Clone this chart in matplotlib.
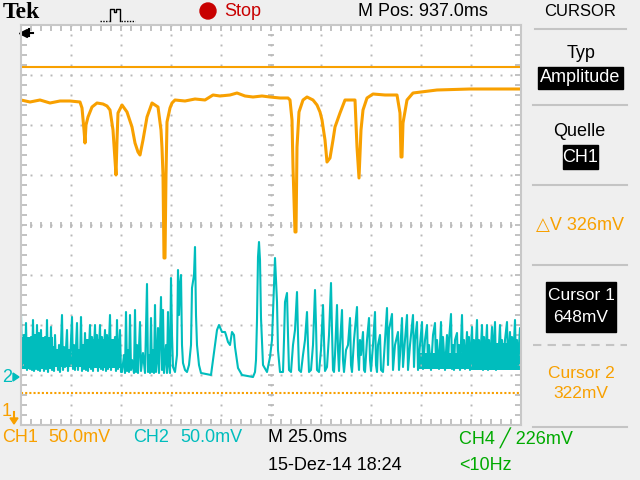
import matplotlib
matplotlib.use("Agg")
import matplotlib.pyplot as plt
from matplotlib.patches import Rectangle, Circle, Polygon
import numpy as np

ORANGE = "#f8a000"
CYAN = "#00bdbd"
GREEN = "#00aa00"
RED = "#c80000"
BG = "#efefef"
GRID = "#b8b8b8"
FONT = ["Liberation Sans", "DejaVu Sans"]

# scope settings
ms_per_div = 25.0
mv_per_div = 50.0
ch1_bottom_mv = 290.0      # CH1 value at bottom edge of screen
ch2_ground_div = 1.0       # CH2 ground marker, divisions above bottom
cursor1_mv = 648
cursor2_mv = 322

# CH1 (orange) - time in ms from left edge, amplitude in mV
ch1_t = [0, 4.5, 9.5, 14.5, 19.5, 24.5, 29.5, 30.5, 31.5, 32, 32.5, 33.5, 35.5, 38, 41, 43,
         44.5, 46, 47, 47.5, 48, 48.5, 50.5, 53, 55.5, 57, 58.5, 59.5, 61, 63, 65.5, 68.5,
         70, 70.5, 71, 71.5, 72, 72.5, 73, 74.5, 75.5, 77, 82, 87, 92, 96, 99.5, 104.5,
         108, 112, 116, 120.5, 124.5, 129.5, 133.5, 134.5, 135.5, 136, 137, 137.5, 138, 139,
         141, 143, 146, 148, 149.5, 150.5, 152, 153, 154.5, 156, 157, 159.5, 162, 167,
         168, 169, 170, 171, 173, 176, 182, 188, 189.5, 190, 190.5, 191, 193, 196,
         208, 224.5, 250]
ch1_mv = [615, 613, 615, 612, 614, 614, 613, 607, 585, 572, 590, 598, 608, 612, 611, 609,
          605, 585, 555, 540, 575, 602, 610, 603, 588, 572, 563, 560, 575, 598, 612, 608,
          585, 567, 540, 457, 457, 540, 593, 607, 612, 615, 614, 616, 615, 620, 619, 620,
          622, 619, 618, 619, 618, 617, 617, 615, 595, 548, 483, 483, 568, 603,
          615, 618, 615, 610, 603, 595, 575, 553, 557, 575, 588, 602, 615, 615,
          568, 537, 585, 605, 617, 621, 620, 620, 602, 558, 558, 592, 615, 622,
          625, 626, 626]

# CH2 (cyan) - (time ms, mV above ground)
ch2_samples = [
    (0, 60), (0.5, 10), (1.5, 40), (2, 8), (2.5, 52), (3, 5), (3.5, 35), (4.5, 6), (5, 38),
    (5.5, 5), (6, 55), (6.5, 4), (7, 40), (7.5, 6), (8, 50), (8.5, 5), (9, 42), (9.5, 4),
    (10, 45), (10.5, 8), (11, 35), (11.5, 4), (12, 38), (12.5, 6), (13, 55), (13.5, 3),
    (14, 30), (14.5, 8), (15, 48), (15.5, 5), (16, 28), (16.5, 4), (17, 40), (17.5, 10),
    (18, 25), (18.5, 5), (19, 30), (19.5, 3), (20.5, 60), (21, 5), (21.5, 28), (22, 8),
    (23, 45), (23.5, 4), (24, 25), (24.5, 12), (25.5, 58), (26, 6), (26.5, 30), (27, 5),
    (28, 52), (28.5, 5), (29, 25), (29.5, 10), (30, 58), (30.5, 4), (31, 30), (31.5, 6),
    (32, 42), (32.5, 5), (33, 35), (33.5, 4), (34.5, 50), (35, 6), (35.5, 38), (36, 4),
    (37, 50), (37.5, 8), (38, 40), (38.5, 4), (39.5, 50), (40, 6), (40.5, 38), (41, 5),
    (42, 45), (42.5, 4), (43, 40), (43.5, 6), (44.5, 60), (45, 5), (45.5, 35), (46, 8),
    (47, 38), (47.5, 4), (48, 55), (48.5, 6), (49.5, 45), (50, 3), (50.5, 3), (51.5, 20),
    (52, 2), (52.5, 63), (53, 4), (53.5, 25), (54, 3), (54.5, 60), (55, 5), (55.5, 15),
    (56.5, 2), (57, 65), (57.5, 3), (58, 30), (58.5, 2), (59.5, 53), (60, 4), (61, 22),
    (62, 2), (63, 91), (63.5, 3), (64, 20), (64.5, 2), (65, 57), (65.5, 3), (66, 25),
    (66.5, 2), (67, 70), (67.5, 3), (68, 15), (68.5, 47), (69, 2), (70, 78), (70.5, 5),
    (71, 65), (71.5, 2), (72.5, 30), (73, 2), (73.5, 63), (74, 10), (74.5, 2), (75, 97),
    (75.5, 40), (76, 8), (77, 3), (78, 20), (78.5, 105), (79, 60), (79.5, 90), (80, 100),
    (80.5, 30), (81, 12), (82, 5), (83, 3), (84, 10), (85, 30), (85.5, 87), (86.5, 100),
    (87, 128), (87.5, 60), (88, 30), (89, 10), (90, 2), (95, 0), (96, 15), (98, 45),
    (99, 50), (100.5, 43), (102, 43), (102.5, 40), (103.5, 33), (104.5, 30), (105.5, 43),
    (106.5, 40), (107, 28), (108.5, 7), (110.5, 0), (116, -2), (117, 3), (117.5, 15),
    (118, 55), (118.5, 118), (119, 133), (119.5, 115), (120, 57), (121, 10), (123, 3),
    (124.5, 18), (125.5, 35), (127, 117), (128, 73), (128.5, 25), (129.5, 3), (131, 3),
    (131.5, 35), (132, 73), (133, 82), (133.5, 40), (134, 5), (135, 3), (136, 30), (137, 45),
    (138, 83), (138.5, 40), (139, 5), (140, 3), (141, 20), (142, 35), (143, 63), (143.5, 30),
    (144, 3), (145, 5), (146, 30), (147, 85), (147.5, 50), (148, 5), (149, 3), (150, 25),
    (151, 70), (151.5, 35), (152, 4), (153, 8), (154, 40), (155, 92), (155.5, 45), (156, 5),
    (156.5, 3), (157, 20), (158, 70), (158.5, 25), (159, 4), (159.5, 30), (160.5, 65),
    (161, 15), (161.5, 3), (162.5, 25), (163.5, 30), (164.5, 57), (165, 10), (165.5, 3),
    (166.5, 35), (168, 68), (168.5, 20), (169, 5), (169.5, 35), (170, 20), (171, 43),
    (171.5, 5), (172, 3), (173, 35), (174, 57), (174.5, 15), (175, 4), (176, 30), (177, 63),
    (177.5, 10), (178, 3), (178.5, 30), (179.5, 40), (180, 5), (181, 3), (182, 35), (183, 67),
    (183.5, 10), (184, 45), (185.5, 61), (186, 5), (187, 30), (188.5, 43), (189, 5),
    (189.5, 20), (190.5, 57), (191, 8), (192, 35), (193, 60), (193.5, 5), (194.5, 30),
    (196, 60), (196.5, 8), (197, 35), (198, 53), (198.5, 5), (199.5, 30), (200.5, 53),
    (201, 6), (202, 35), (203, 50), (203.5, 8), (204, 30), (205, 5), (206, 40), (207, 52),
    (207.5, 10), (208, 35), (209, 6), (210, 53), (210.5, 8), (211, 38), (212, 5), (213, 40),
    (213.5, 10), (214, 35), (215, 61), (215.5, 6), (216, 30), (216.5, 5), (217, 35),
    (218, 42), (218.5, 8), (219, 30), (219.5, 5), (220.5, 60), (221, 10), (221.5, 35),
    (222, 6), (223, 43), (223.5, 10), (224, 38), (224.5, 5), (225.5, 48), (226, 8),
    (226.5, 35), (227, 10), (228, 55), (228.5, 6), (229, 35), (229.5, 10), (230.5, 50),
    (231, 5), (231.5, 38), (232, 12), (233, 50), (233.5, 5), (234, 35), (234.5, 8),
    (235.5, 48), (236, 12), (237, 53), (237.5, 5), (238, 30), (238.5, 10), (239.5, 50),
    (240, 15), (240.5, 35), (241, 6), (242, 35), (243, 53), (243.5, 10), (244.5, 43),
    (245, 8), (245.5, 38), (246, 12), (247, 55), (247.5, 8), (248, 35), (248.5, 10),
    (249.5, 47), (250, 15),
]

# CH2 dense envelope where the trace smears into a solid band: (t0, t1, low mV, high mV)
ch2_bands = [
    (0, 16, 6, 38),
    (16, 33, 8, 22),
    (33, 49.5, 7, 36),
    (198, 225, 6, 22),
    (225, 250, 5, 32),
]

fig = plt.figure(figsize=(6.4, 4.8), dpi=100, facecolor=BG)

# overlay in screen pixels for the status text
ov = fig.add_axes([0, 0, 1, 1])
ov.set_xlim(0, 640)
ov.set_ylim(480, 0)
ov.axis("off")

def label(x, y, s, color="black", size=13, ha="left", **kw):
    ov.text(x, y, s, color=color, fontsize=size, ha=ha, va="center", family=FONT, **kw)

# top bar
ov.text(3, 13, "Tek", fontsize=17, fontweight="bold", family="Liberation Serif", va="center")
ov.plot([100, 109], [21, 21], color="black", lw=1, ls=(0, (1, 1)))
ov.plot([110, 110, 114, 114, 116, 116, 120, 120], [21, 9, 9, 12, 12, 9, 9, 21], color="black", lw=1)
ov.plot([121, 135], [21, 21], color="black", lw=1, ls=(0, (1, 1)))
ov.add_patch(Circle((208, 11), 8, color=RED))
label(224, 11, "Stop", color=RED)
label(358, 11, "M Pos: 937.0ms")
label(580, 11, "CURSOR", ha="center", size=12)
ov.plot([535, 626], [29, 29], color="#c4c4c4", lw=1.5)

# right menu
label(581, 53, "Typ", ha="center")
ov.add_patch(Rectangle((538, 67), 85, 22, color="black"))
label(580.5, 78, "Amplitude", color="white", ha="center")
ov.plot([533, 627], [105, 105], color="#c4c4c4", lw=1.5)
label(579, 132, "Quelle", ha="center")
ov.add_patch(Rectangle((563, 145), 35, 24, color="black"))
label(580.5, 157, "CH1", color="white", ha="center")
ov.plot([533, 627], [185, 185], color="#c4c4c4", lw=1.5)
label(580, 225, "\u25b3V 326mV", color=ORANGE, ha="center")
ov.plot([533, 627], [265, 265], color="#c4c4c4", lw=1.5)
ov.add_patch(Rectangle((546, 282), 70, 50, color="black"))
label(581, 295, "Cursor 1", color="white", ha="center", size=12.5)
label(581, 317, f"{cursor1_mv}mV", color="white", ha="center", size=12.5)
ov.plot([533, 627], [345, 345], color="#c4c4c4", lw=1.5, ls=(0, (4, 3)))
label(581, 373, "Cursor 2", color=ORANGE, ha="center", size=12.5)
label(581, 394, f"{cursor2_mv}mV", color=ORANGE, ha="center", size=12.5)
ov.plot([533, 627], [427, 427], color="#c4c4c4", lw=1.5)

# bottom bar
label(2, 438, "CH1", color=ORANGE)
label(48, 438, "50.0mV", color=ORANGE)
label(133, 438, "CH2", color=CYAN)
label(180, 438, "50.0mV", color=CYAN)
label(268, 438, "M 25.0ms")
label(459, 438, "CH4 \u2571 226mV", color=GREEN)
label(268, 465, "15-Dez-14 18:24")
label(459, 465, "<10Hz", color=GREEN)

# channel markers on the left
label(2, 377, "2", color=CYAN)
ov.add_patch(Polygon([[13, 373], [19, 377], [13, 381]], color=CYAN))
label(2, 412, "1", color=ORANGE)
ov.add_patch(Polygon([[10, 418], [18, 418], [14, 424]], color=ORANGE))
ov.plot([14, 14], [412, 419], color=ORANGE, lw=1.5)

# graticule
ax = fig.add_axes([21 / 640, 55 / 480, 500 / 640, 400 / 480])
ax.set_facecolor("white")
ax.set_xlim(0, 10 * ms_per_div)
ax.set_ylim(0, 8)
for sp in ax.spines.values():
    sp.set_color("#c8c8c8")
    sp.set_linewidth(1.5)
ax.set_xticks(np.arange(0, 250.1, 5))
ax.set_yticks(np.arange(0, 8.01, 0.2))
ax.tick_params(direction="in", length=4, width=1.2, color=GRID, top=True, right=True,
               labelbottom=False, labelleft=False)

ys = np.arange(0, 8.01, 0.2)
xs = np.arange(0, 250.1, 5)
for i in range(1, 10):
    ax.plot([i * ms_per_div] * len(ys), ys, ls="none", marker="s", ms=1.4, mew=0, color=GRID)
for j in range(1, 8):
    ax.plot(xs, [j] * len(xs), ls="none", marker="s", ms=1.4, mew=0, color=GRID)
ax.plot(xs, [4] * len(xs), ls="none", marker="|", ms=4.5, mew=1.2, color=GRID)
ax.plot([125] * len(ys), ys, ls="none", marker="_", ms=4.5, mew=1.2, color=GRID)

# trigger position marker
ax.plot([1], [7.84], marker="<", ms=6, color="black", clip_on=False)
ax.plot([1, 6], [7.84, 7.84], color="black", lw=1.5)
ax.plot([4, 4], [7.77, 7.91], color="black", lw=1.5)

# cursors
ax.axhline((cursor1_mv - ch1_bottom_mv) / mv_per_div, color=ORANGE, lw=1.5)
ax.axhline((cursor2_mv - ch1_bottom_mv) / mv_per_div, color=ORANGE, lw=1.5, ls=(0, (1, 1)))

# traces
for t0, t1, lo, hi in ch2_bands:
    ax.fill_between([t0, t1], [lo / mv_per_div + ch2_ground_div] * 2,
                    [hi / mv_per_div + ch2_ground_div] * 2, color=CYAN, lw=0)
ch2_t = [p[0] for p in ch2_samples]
ch2_mv = [p[1] for p in ch2_samples]
ax.plot(ch2_t, [m / mv_per_div + ch2_ground_div for m in ch2_mv], color=CYAN, lw=1.5)
ax.plot(ch1_t, [(m - ch1_bottom_mv) / mv_per_div for m in ch1_mv], color=ORANGE, lw=2.2)

fig.savefig("out.png", dpi=100, facecolor=BG)
